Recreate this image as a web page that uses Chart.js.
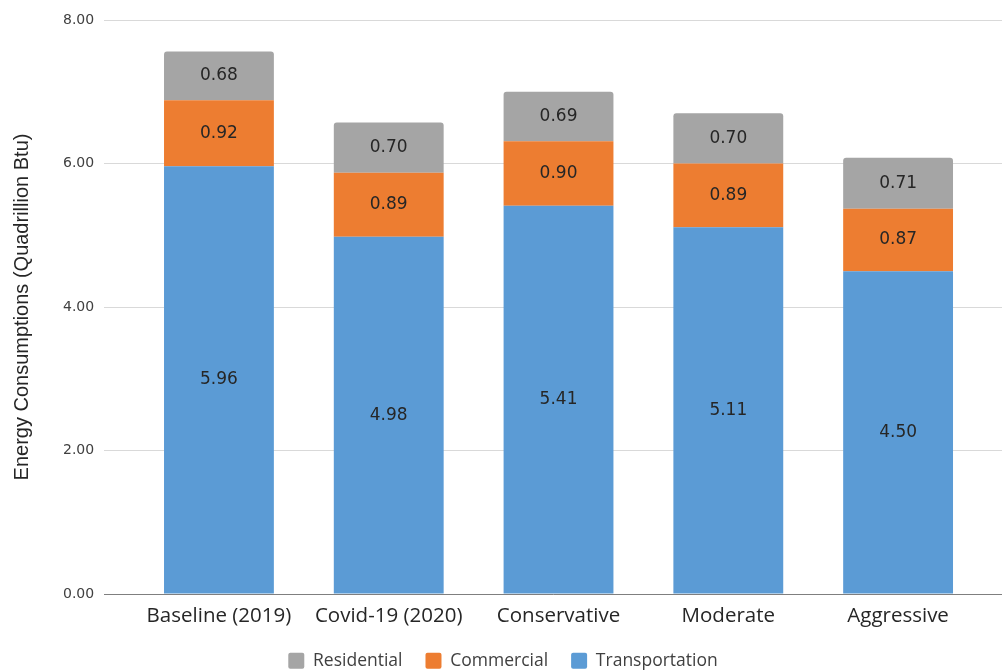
<!DOCTYPE html>
<html>
<head>
<meta charset="utf-8">
<script src="https://cdn.jsdelivr.net/npm/chart.js@4"></script>
<style>
  body { margin: 0; background: #fff; }
  #wrap { width: 1002px; height: 672px; }
</style>
</head>
<body>
<div id="wrap"><canvas id="myChart-Energy"></canvas></div>
<script>
const scenarios = ['Baseline (2019)', 'Covid-19 (2020)', 'Conservative', 'Moderate', 'Aggressive'];
const transportation = [5.96, 4.98, 5.41, 5.11, 4.50];
const commercial = [0.92, 0.89, 0.90, 0.89, 0.87];
const residential = [0.68, 0.70, 0.69, 0.70, 0.71];
const yTicks = [0, 2, 4, 6, 8];

const toPoints = (arr) => arr.map((v, i) => ({ x: i, y: v }));

// writes the value in the middle of each bar segment
const segmentLabels = {
  id: 'segmentLabels',
  afterDatasetsDraw(chart) {
    const ctx = chart.ctx;
    ctx.save();
    ctx.font = '17px "DejaVu Sans"';
    ctx.fillStyle = '#262626';
    ctx.textAlign = 'center';
    ctx.textBaseline = 'middle';
    chart.data.datasets.forEach((ds, d) => {
      chart.getDatasetMeta(d).data.forEach((bar, i) => {
        const y = (bar.y + bar.base) / 2;
        ctx.fillText(ds.data[i].y.toFixed(2), bar.x, y);
      });
    });
    ctx.restore();
  }
};

const energyChart = document.getElementById('myChart-Energy');

new Chart(energyChart, {
  type: 'bar',
  data: {
    datasets: [
      {
        label: 'Transportation',
        data: toPoints(transportation),
        backgroundColor: 'rgb(91, 155, 213)'
      },
      {
        label: 'Commercial',
        data: toPoints(commercial),
        backgroundColor: 'rgb(237, 125, 49)'
      },
      {
        label: 'Residential',
        data: toPoints(residential),
        backgroundColor: 'rgb(165, 165, 165)',
        borderRadius: { topLeft: 3, topRight: 3, bottomLeft: 0, bottomRight: 0 },
        borderSkipped: 'start'
      }
    ]
  },
  options: {
    responsive: true,
    maintainAspectRatio: false,
    animation: false,
    categoryPercentage: 1,
    barPercentage: 0.647,
    layout: {
      padding: { top: 20, left: 4, right: 0, bottom: 0 }
    },
    plugins: {
      tooltip: { enabled: false },
      legend: {
        position: 'bottom',
        reverse: true,
        maxHeight: 43,
        labels: {
          boxWidth: 16,
          boxHeight: 16,
          useBorderRadius: true,
          borderRadius: 2,
          padding: 23,
          color: '#404040',
          font: { family: '"Open Sans"', size: 17.5 }
        }
      }
    },
    scales: {
      x: {
        type: 'linear',
        stacked: true,
        offset: false,
        min: -0.676,
        max: 4.612,
        grid: { display: false, drawTicks: false },
        border: { display: true, color: '#7f7f7f', width: 1 },
        afterBuildTicks: (scale) => {
          scale.ticks = scenarios.map((s, i) => ({ value: i }));
        },
        afterFit: (scale) => {
          scale.height = 35;
        },
        ticks: {
          autoSkip: false,
          maxRotation: 0,
          padding: 10,
          color: '#262626',
          font: { family: '"Open Sans"', size: 20.5 },
          callback: (v) => scenarios[v]
        }
      },
      y: {
        stacked: true,
        min: 0,
        max: 8,
        afterBuildTicks: (scale) => {
          scale.ticks = yTicks.map((v) => ({ value: v }));
        },
        grid: { color: '#d9d9d9', drawTicks: false },
        border: { display: false },
        ticks: {
          padding: 10,
          color: '#404040',
          font: { family: '"DejaVu Sans"', size: 14 },
          callback: (v) => v.toFixed(2)
        },
        title: {
          display: true,
          text: 'Energy Consumptions (Quadrillion Btu)',
          color: '#262626',
          padding: { top: 6, bottom: 19 },
          font: { family: '"Liberation Sans"', size: 20 }
        }
      }
    }
  },
  plugins: [segmentLabels]
});
</script>
</body>
</html>
